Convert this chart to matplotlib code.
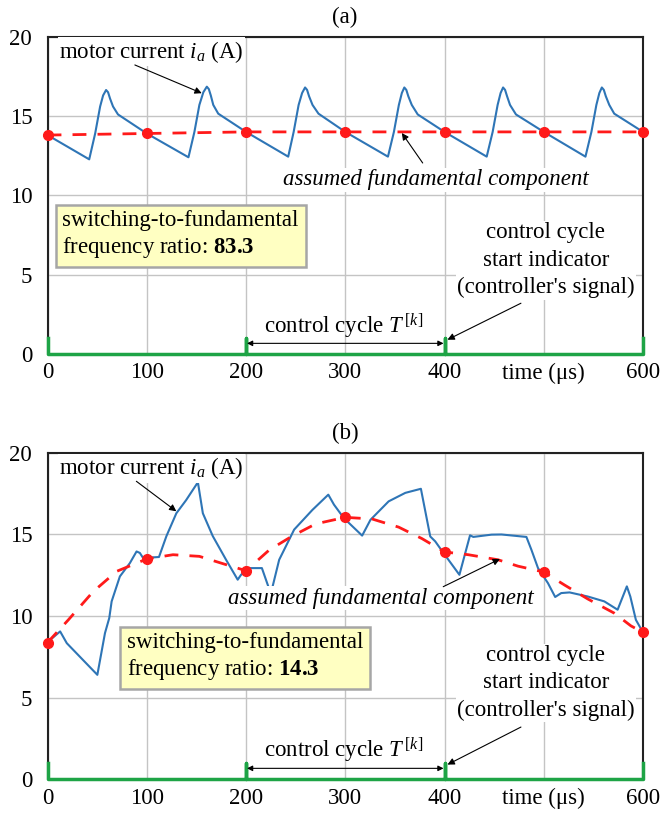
import numpy as np
import matplotlib.pyplot as plt

plt.rcParams['font.family'] = ['Liberation Serif', 'DejaVu Serif']
plt.rcParams['mathtext.fontset'] = 'custom'
plt.rcParams['mathtext.rm'] = 'Liberation Serif'
plt.rcParams['mathtext.it'] = 'Liberation Serif:italic'
plt.rcParams['mathtext.bf'] = 'Liberation Serif:bold'

# ---- panel (a): motor current, 83.3 ratio
t_cur_a = [0, 42, 48, 53, 56, 59, 61, 63, 66, 71,
           100, 142, 148, 153, 157, 160.5, 162.5, 164.5, 167, 172,
           200, 242.5, 248, 253, 256.5, 259.5, 261.5, 263.5, 267, 273,
           300, 343, 349, 354, 357, 359.5, 361.5, 363.5, 367, 373,
           400, 442.5, 448.5, 453.5, 456.5, 459, 461, 463, 466, 472,
           500, 542, 548, 553, 556, 558.5, 560.5, 562.5, 566, 571,
           600]
i_cur_a = [13.8, 12.27, 13.9, 15.6, 16.3, 16.64, 16.5, 16.1, 15.6, 15.1,
           13.9, 12.4, 14.0, 15.7, 16.5, 16.85, 16.7, 16.3, 15.7, 15.15,
           14.0, 12.44, 14.0, 15.7, 16.45, 16.8, 16.65, 16.25, 15.7, 15.15,
           14.0, 12.44, 14.0, 15.7, 16.45, 16.8, 16.65, 16.25, 15.7, 15.1,
           14.0, 12.44, 14.0, 15.7, 16.45, 16.8, 16.65, 16.25, 15.7, 15.1,
           14.0, 12.44, 14.0, 15.7, 16.45, 16.8, 16.65, 16.25, 15.7, 15.15,
           14.0]
t_fund_a = [0, 100, 200, 300, 400, 500, 600]
i_fund_a = [13.8, 13.9, 14.0, 14.0, 14.0, 14.0, 14.0]
t_dots_a = [0, 100, 200, 300, 400, 500, 600]
i_dots_a = [13.8, 13.9, 14.0, 14.0, 14.0, 14.0, 14.0]

# ---- panel (b): motor current, 14.3 ratio
t_cur_b = [0, 12.7, 19.4, 50.2, 57.9, 62.2, 64.6, 72.9, 83, 89.7, 93, 96.3,
           112.3, 119.8, 129.8, 139.6, 151.5, 156.5, 166.5, 179.9, 191.6, 195,
           200, 203.3, 216, 225, 233.4, 248.5, 266.8, 282.9, 288.6, 298.6,
           317, 325.4, 343.7, 360.5, 376.2, 385.6, 390.6, 398.9, 415, 425.7,
           429, 447.4, 457.4, 482.5, 487.5, 494.2, 504.2, 511.5, 517.6, 526,
           544.3, 561, 574.4, 583.7, 587.2, 592.8, 600]
i_cur_b = [8.4, 9.06, 8.34, 6.4, 8.96, 9.88, 10.9, 12.43, 13.25, 13.96, 13.87, 13.56,
           13.62, 14.9, 16.3, 17.1, 18.2, 16.3, 14.9, 13.45, 12.23, 12.53,
           12.8, 12.94, 12.94, 11.37, 13.45, 15.3, 16.5, 17.44, 16.83, 16.0,
           14.93, 15.9, 17.03, 17.55, 17.8, 14.88, 14.58, 13.87, 12.53, 14.95,
           14.85, 14.99, 15.0, 14.85, 14.07, 12.94, 12.02, 11.17, 11.41, 11.45,
           11.2, 10.9, 10.39, 11.82, 11.2, 9.77, 9.0]
t_fund_b = [0, 21, 46, 69.6, 100, 126.4, 153, 180, 200,
            223.4, 246.5, 270.2, 300, 327, 353.8, 377.2, 400,
            424, 453.9, 474, 500, 521, 544.3, 571, 587.8, 600]
i_fund_b = [8.38, 9.77, 11.5, 12.74, 13.5, 13.76, 13.66, 13.15, 12.78,
            14.05, 14.9, 15.65, 16.05, 15.95, 15.45, 14.75, 13.93,
            13.76, 13.45, 13.06, 12.7, 11.9, 11.05, 10.18, 9.4, 9.0]
t_dots_b = [0, 100, 200, 300, 400, 500, 600]
i_dots_b = [8.38, 13.5, 12.78, 16.05, 13.93, 12.7, 9.0]

# controller start indicator
t_sig = [0, 0, 200, 200, 200, 400, 400, 400, 600, 600]
v_sig = [1, 0, 0, 1, 0, 0, 1, 0, 0, 1]

x_ticks = [0, 100, 200, 300, 400, 500, 600]
x_tick_labels = ['0', '100', '200', '300', '400', 'time (μs)', '600']
y_ticks = [0, 5, 10, 15, 20]

blue = '#2e75b6'
red = '#ff1a1a'
green = '#1ea446'
fs = 16.5

fig = plt.figure(figsize=(6.61, 8.16), dpi=100)
ax_a = fig.add_axes([0.0719, 0.5662, 0.9009, 0.3888])
ax_b = fig.add_axes([0.0719, 0.045, 0.9009, 0.400])

arrow_kw = dict(arrowstyle='-|>', color='black', lw=0.8,
                mutation_scale=10, shrinkA=0, shrinkB=0)


def draw_panel(ax, t_cur, i_cur, t_fund, i_fund, t_dots, i_dots, ratio,
               cur_arrow, fund_text, fund_arrow, box_xy):
    ax.set_xlim(0, 600)
    ax.set_ylim(0, 20)
    ax.set_xticks(x_ticks)
    ax.set_xticklabels(x_tick_labels)
    ax.set_yticks(y_ticks)
    ax.tick_params(length=0, labelsize=fs)
    ax.tick_params(axis='y', pad=11)
    ax.tick_params(axis='x', pad=6)
    ax.grid(True, color='#c4c4c4', lw=1)
    ax.set_axisbelow(True)
    for s in ['top', 'right', 'left']:
        ax.spines[s].set_color('#222222')
        ax.spines[s].set_linewidth(1.5)
    ax.spines['bottom'].set_visible(False)

    ax.plot(t_cur, i_cur, color=blue, lw=1.5, zorder=3)
    ax.plot(t_fund, i_fund, color=red, lw=2, ls=(0, (5, 4)), zorder=4)
    ax.plot(t_dots, i_dots, 'o', color=red, ms=7, zorder=5, clip_on=False)
    ax.plot(t_sig, v_sig, color=green, lw=2.5, zorder=4, clip_on=False)

    txt_bg = dict(facecolor='white', edgecolor='none', pad=1)
    ax.text(12, 19.05, 'motor current $i_a$ (A)', fontsize=fs,
            ha='left', va='center', bbox=txt_bg, zorder=6)
    ax.annotate('', xy=cur_arrow[1], xytext=cur_arrow[0], arrowprops=arrow_kw, zorder=6)
    ax.text(fund_text[0], fund_text[1], 'assumed fundamental component',
            fontsize=fs, style='italic', ha='center', va='center', bbox=txt_bg, zorder=6)
    ax.annotate('', xy=fund_arrow[1], xytext=fund_arrow[0], arrowprops=arrow_kw, zorder=6)
    ax.text(box_xy[0], box_xy[1],
            'switching-to-fundamental\nfrequency ratio: $\\mathbf{' + ratio + '}$',
            fontsize=fs, ha='left', va='center', linespacing=1.2, zorder=6,
            bbox=dict(boxstyle='square,pad=0.3', facecolor='#ffffc2',
                      edgecolor='#a6a6a6', lw=1.8))
    ax.text(502, 5.9, "control cycle\nstart indicator\n(controller's signal)",
            fontsize=fs, ha='center', va='center', linespacing=1.4,
            bbox=txt_bg, zorder=6)
    ax.annotate('', xy=(403, 0.9), xytext=(477, 3.2), arrowprops=arrow_kw, zorder=6)
    ax.text(298, 1.75, 'control cycle $T^{\\,[k]}$', fontsize=fs,
            ha='center', va='center', zorder=6)
    ax.annotate('', xy=(399, 0.67), xytext=(201, 0.67),
                arrowprops=dict(arrowstyle='<|-|>', color='black', lw=0.8,
                                mutation_scale=8, shrinkA=0, shrinkB=0), zorder=6)


draw_panel(ax_a, t_cur_a, i_cur_a, t_fund_a, i_fund_a, t_dots_a, i_dots_a, '83.3',
           [(88, 18.22), (155.4, 16.44)], (391, 10.97),
           [(378, 12.04), (357, 13.93)], (15, 7.5))
draw_panel(ax_b, t_cur_b, i_cur_b, t_fund_b, i_fund_b, t_dots_b, i_dots_b, '14.3',
           [(89.5, 18.26), (129.8, 16.42)], (336, 11.1),
           [(398.7, 11.8), (455.8, 13.5)], (80, 7.5))

fig.text(345 / 661, 1 - 17 / 816, '(a)', fontsize=fs, ha='center', va='center')
fig.text(345 / 661, 1 - 433 / 816, '(b)', fontsize=fs, ha='center', va='center')

fig.savefig('out.png', dpi=100)
